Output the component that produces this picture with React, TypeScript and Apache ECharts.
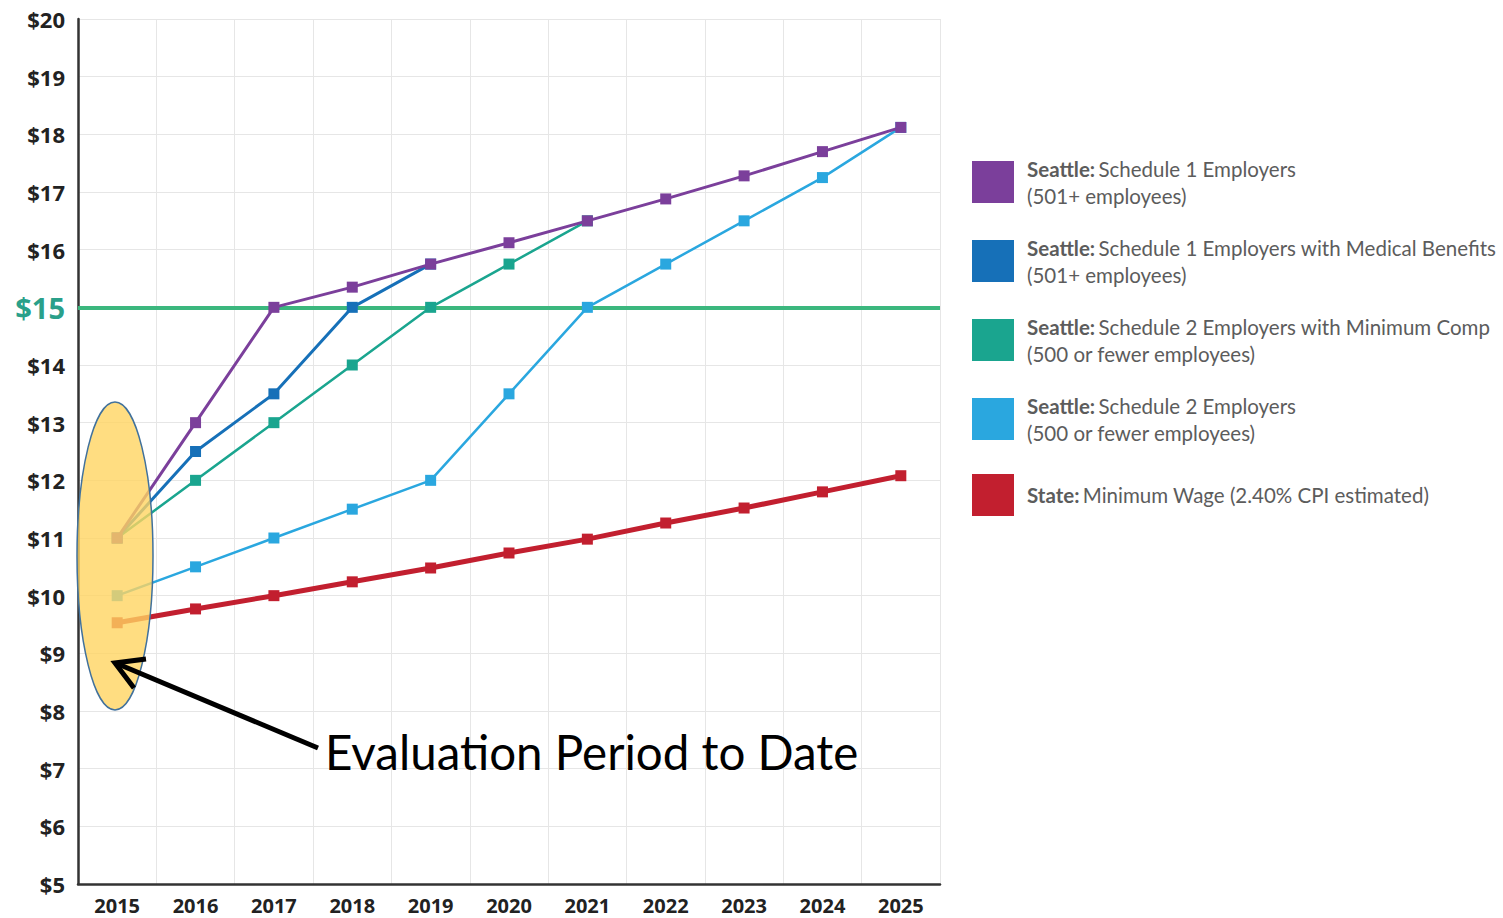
import React, { useEffect, useRef } from "react";
import * as echarts from "echarts";

const years = ["2015", "2016", "2017", "2018", "2019", "2020", "2021", "2022", "2023", "2024", "2025"];
const schedule1 = [11, 13, 15, 15.35, 15.75, 16.12, 16.5, 16.88, 17.28, 17.7, 18.12];
const schedule1Medical = [11, 12.5, 13.5, 15, 15.75, null, null, null, null, null, null];
const schedule2MinComp = [11, 12, 13, 14, 15, 15.75, 16.5, null, null, null, null];
const schedule2 = [10, 10.5, 11, 11.5, 12, 13.5, 15, 15.75, 16.5, 17.25, 18.12];
const stateMinimum = [9.53, 9.77, 10, 10.24, 10.48, 10.74, 10.98, 11.26, 11.52, 11.8, 12.08];
const threshold = 15;

const legendLabels: Record<string, [string, string, string]> = {
  "Schedule 1 Employers": ["Seattle:", "Schedule 1 Employers", "(501+ employees)"],
  "Schedule 1 Employers with Medical Benefits": ["Seattle:", "Schedule 1 Employers with Medical Benefits", "(501+ employees)"],
  "Schedule 2 Employers with Minimum Comp": ["Seattle:", "Schedule 2 Employers with Minimum Comp", "(500 or fewer employees)"],
  "Schedule 2 Employers": ["Seattle:", "Schedule 2 Employers", "(500 or fewer employees)"],
  "State Minimum Wage": ["State:", "Minimum Wage (2.40% CPI estimated)", ""],
};

const AXIS_FONT = "'Open Sans', 'Noto Sans', sans-serif";
const LEGEND_FONT = "Lato, 'Open Sans', sans-serif";

export default function App() {
  const ref = useRef<HTMLDivElement>(null);
  useEffect(() => {
    if (!ref.current) return;
    const chart = echarts.init(ref.current, undefined, { renderer: "svg" });
    const mk = (name: string, data: (number | null)[], color: string, width: number, z: number, extra: any = {}) => ({
      name,
      type: "line",
      data,
      z,
      symbol: "rect",
      symbolSize: 11,
      connectNulls: false,
      lineStyle: { color, width },
      itemStyle: { color },
      emphasis: { disabled: true },
      ...extra,
    });
    chart.setOption({
      animation: false,
      backgroundColor: "#ffffff",
      grid: { left: 78, right: 563, top: 19, bottom: 34, containLabel: false },
      legend: {
        orient: "vertical",
        left: 972,
        top: 158,
        padding: 0,
        itemWidth: 42,
        itemHeight: 42,
        itemGap: 31,
        icon: "rect",
        selectedMode: false,
        data: [
          "Schedule 1 Employers",
          "Schedule 1 Employers with Medical Benefits",
          "Schedule 2 Employers with Minimum Comp",
          "Schedule 2 Employers",
          "State Minimum Wage",
        ],
        formatter: (name: string) => {
          const l = legendLabels[name];
          return l[2] ? `{b|${l[0]}} {n|${l[1]}}\n{n|${l[2]}}` : `{b|${l[0]}} {n|${l[1]}}`;
        },
        textStyle: {
          padding: [0, 0, 0, 8],
          rich: {
            b: { fontFamily: LEGEND_FONT, fontSize: 20.5, fontWeight: "bold", color: "#5c5c5c", lineHeight: 27 },
            n: { fontFamily: LEGEND_FONT, fontSize: 20.5, color: "#5c5c5c", lineHeight: 27 },
          },
        },
      },
      xAxis: {
        type: "category",
        data: years,
        boundaryGap: true,
        axisLine: { show: true, lineStyle: { color: "#333", width: 2.5 } },
        axisTick: { show: false },
        axisLabel: { fontFamily: AXIS_FONT, fontWeight: "bold", fontSize: 20, color: "#222", margin: 11 },
        splitLine: { show: true, lineStyle: { color: "#e6e6e6", width: 1 } },
      },
      yAxis: {
        type: "value",
        min: 5,
        max: 20,
        interval: 1,
        axisLine: { show: true, lineStyle: { color: "#333", width: 2.5 } },
        axisTick: { show: false },
        axisLabel: {
          margin: 13,
          formatter: (v: number) => (v === threshold ? `{g|$${v}}` : `{d|$${v}}`),
          rich: {
            d: { fontFamily: AXIS_FONT, fontWeight: "bold", fontSize: 22, color: "#222" },
            g: { fontFamily: AXIS_FONT, fontWeight: "bold", fontSize: 29, color: "#2aa08a" },
          },
        },
        splitLine: { show: true, lineStyle: { color: "#e6e6e6", width: 1 } },
      },
      series: [
        mk("State Minimum Wage", stateMinimum, "#c21f2f", 5, 2, {
          markLine: {
            silent: true,
            symbol: "none",
            label: { show: false },
            lineStyle: { color: "#3bb77e", width: 4, type: "solid" },
            data: [{ yAxis: threshold }],
            z: 1,
          },
        }),
        mk("Schedule 2 Employers", schedule2, "#2aa7df", 2.5, 3),
        mk("Schedule 2 Employers with Minimum Comp", schedule2MinComp, "#1aa58f", 2.5, 4),
        mk("Schedule 1 Employers with Medical Benefits", schedule1Medical, "#1670b8", 3, 5),
        mk("Schedule 1 Employers", schedule1, "#7b3f9b", 3, 6),
      ],
      graphic: [
        {
          type: "ellipse",
          z: 100,
          shape: { cx: 115, cy: 556, rx: 38, ry: 154 },
          style: { fill: "rgba(255, 212, 98, 0.8)", stroke: "#41719c", lineWidth: 1.5 },
        },
        {
          type: "line",
          z: 101,
          shape: { x1: 318, y1: 748, x2: 118, y2: 664 },
          style: { stroke: "#000", lineWidth: 5 },
        },
        {
          type: "polyline",
          z: 101,
          shape: { points: [[146, 659], [115, 663], [134, 688]] },
          style: { stroke: "#000", lineWidth: 5, fill: "none", lineJoin: "miter" },
        },
        {
          type: "text",
          z: 101,
          x: 325,
          y: 751,
          style: {
            text: "Evaluation Period to Date",
            fontFamily: "Lato, 'Open Sans', sans-serif",
            fontSize: 47.5,
            fill: "#000",
            verticalAlign: "middle",
            align: "left",
          },
        },
      ],
    });
    return () => chart.dispose();
  }, []);
  return <div ref={ref} style={{ position: "absolute", left: 0, top: 0, width: 1503, height: 918 }} />;
}
